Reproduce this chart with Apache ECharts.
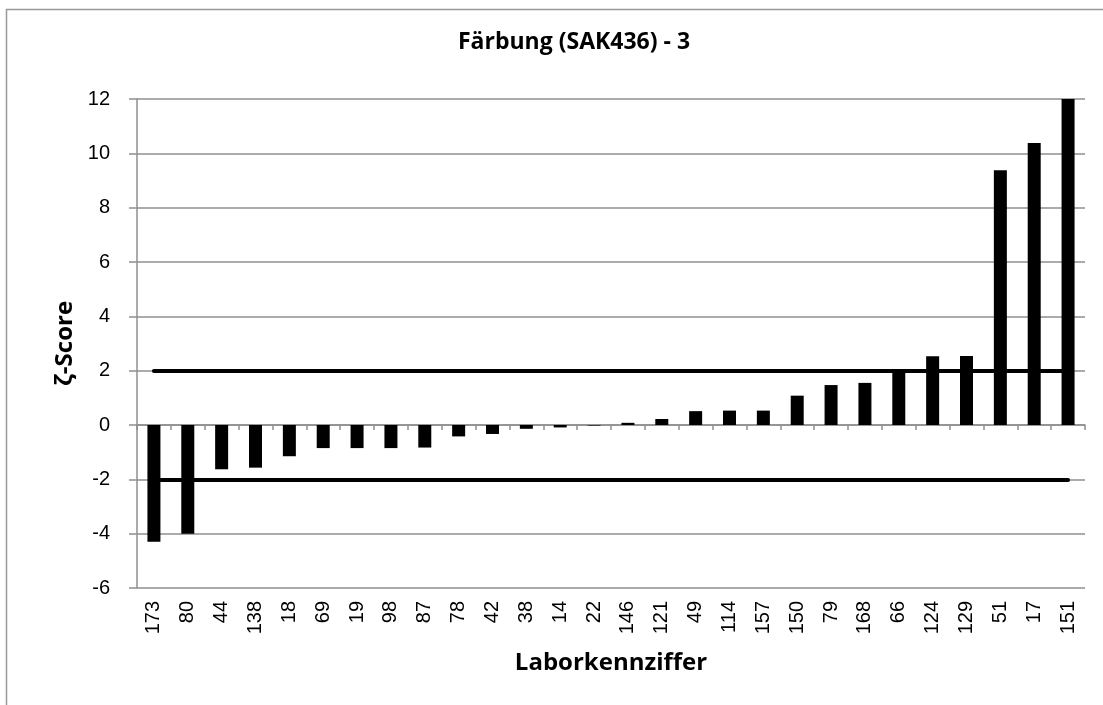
<!DOCTYPE html>
<html>
<head>
<meta charset="utf-8">
<script src="https://cdn.jsdelivr.net/npm/echarts@6/dist/echarts.min.js"></script>
<style>
  html, body { margin: 0; padding: 0; background: #fff; }
  #chart { width: 1103px; height: 705px; }
</style>
</head>
<body>
<div id="chart"></div>
<script>
  // Laborkennziffern (Reihenfolge wie im Bild)
  var labs = ["173", "80", "44", "138", "18", "69", "19", "98", "87", "78", "42", "38", "14", "22",
    "146", "121", "49", "114", "157", "150", "79", "168", "66", "124", "129", "51", "17", "151"];
  // ζ-Scores
  var scores = [-4.3, -4.0, -1.63, -1.57, -1.15, -0.85, -0.85, -0.85, -0.83, -0.42, -0.33, -0.14, -0.09, -0.02,
    0.08, 0.22, 0.51, 0.53, 0.53, 1.08, 1.47, 1.55, 2.0, 2.53, 2.54, 9.38, 10.38, 12];
  // Grenzen |ζ| = 2
  var limits = [2, -2];
  var yTicks = { min: -6, max: 12, step: 2 };

  var dom = document.getElementById("chart");
  var myChart = echarts.init(dom, null, { renderer: "canvas" });

  var gray = "#8f8f8f";
  var first = labs[0], last = labs[labs.length - 1];

  var option = {
    animation: false,
    backgroundColor: "#fff",
    graphic: [
      {
        type: "rect",
        shape: { x: 6.5, y: 9.5, width: 1120, height: 720 },
        style: { fill: "none", stroke: "#999", lineWidth: 1.5 },
        silent: true
      }
    ],
    title: {
      text: "Färbung (SAK436) - 3",
      left: 569,
      top: 26,
      textAlign: "center",
      textStyle: { fontFamily: "Open Sans", fontWeight: "bold", fontSize: 23, color: "#000" }
    },
    grid: { left: 137, right: 18, top: 99, bottom: 117, containLabel: false },
    xAxis: [
      {
        type: "category",
        data: labs,
        position: "bottom",
        axisLine: { show: false, onZero: false },
        axisTick: { show: false },
        axisLabel: {
          rotate: 90,
          margin: 13,
          fontSize: 20,
          fontFamily: "Liberation Sans",
          color: "#000",
          interval: 0
        },
        name: "Laborkennziffer",
        nameLocation: "middle",
        nameGap: 63,
        nameTextStyle: { fontFamily: "Open Sans", fontWeight: "bold", fontSize: 24, color: "#000" }
      },
      {
        type: "category",
        data: labs,
        position: "bottom",
        axisLine: { show: true, onZero: true, lineStyle: { color: gray, width: 1.5 } },
        axisTick: { show: true, length: 5, inside: false, lineStyle: { color: gray, width: 1.5 } },
        axisLabel: { show: false }
      }
    ],
    yAxis: {
      type: "value",
      min: yTicks.min,
      max: yTicks.max,
      interval: yTicks.step,
      axisLine: { show: true, onZero: false, lineStyle: { color: gray, width: 1.5 } },
      axisTick: { show: true, length: 8, lineStyle: { color: gray, width: 1.5 } },
      splitLine: { show: true, lineStyle: { color: gray, width: 1.5 } },
      axisLabel: { fontSize: 20, fontFamily: "Liberation Sans", color: "#000", margin: 27 },
      name: "ζ-Score",
      nameLocation: "middle",
      nameRotate: 90,
      nameGap: 58,
      nameTextStyle: { fontFamily: "Open Sans", fontWeight: "bold", fontSize: 24, color: "#000" }
    },
    series: [
      {
        type: "bar",
        xAxisIndex: 0,
        data: scores,
        barWidth: 13,
        itemStyle: { color: "#000" },
        markLine: {
          silent: true,
          symbol: "none",
          label: { show: false },
          lineStyle: { color: "#000", width: 4, type: "solid", cap: "round" },
          data: limits.map(function (v) {
            return [{ coord: [first, v] }, { coord: [last, v] }];
          })
        }
      }
    ]
  };

  myChart.setOption(option);
</script>
</body>
</html>
